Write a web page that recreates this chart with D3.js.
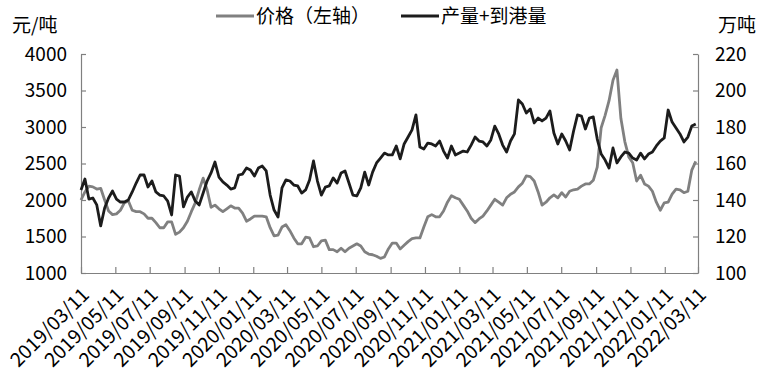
<!DOCTYPE html>
<html>
<head>
<meta charset="utf-8">
<script src="https://cdn.jsdelivr.net/npm/d3@7/dist/d3.min.js"></script>
<style>
  html, body { margin: 0; padding: 0; background: #fff; }
  svg { display: block; }
  text { font-family: "Noto Sans CJK SC", "Noto Sans", sans-serif; fill: #000; }
</style>
</head>
<body>
<svg id="chart" width="760" height="382"></svg>
<script>
// ---------------- DATA ----------------
const startDate = "2019/03/11";           // first weekly observation
const seriesNames = ["价格（左轴）", "产量+到港量"];
const leftUnit = "元/吨";
const rightUnit = "万吨";

// weekly price (元/吨, left axis)
const price = [
  2000,2110,2190,2180,2150,2160,2000,1850,1800,1810,
  1860,1960,1990,1860,1840,1840,1810,1750,1750,1690,
  1620,1620,1700,1700,1530,1560,1620,1710,1840,1960,
  2140,2300,2140,1900,1930,1880,1840,1880,1920,1890,
  1890,1820,1710,1740,1780,1780,1780,1770,1620,1510,
  1520,1630,1660,1580,1480,1400,1400,1490,1480,1360,
  1370,1440,1450,1320,1320,1290,1340,1290,1340,1370,
  1400,1370,1290,1260,1250,1230,1200,1220,1330,1410,
  1410,1330,1380,1430,1470,1480,1480,1630,1770,1800,
  1770,1770,1850,1970,2060,2030,2010,1930,1850,1750,
  1690,1740,1780,1850,1930,2010,1970,1930,2030,2080,
  2110,2180,2230,2330,2320,2260,2110,1930,1970,2030,
  2070,2030,2100,2040,2120,2140,2150,2190,2220,2220,
  2270,2450,2990,3160,3360,3640,3780,3120,2800,2590,
  2510,2260,2340,2220,2190,2120,1970,1860,1960,1970,
  2080,2150,2140,2100,2120,2410,2530
];

// weekly output + port arrivals (万吨, right axis)
const volume = [
  145.5,151.5,140.5,141.1,137.3,125.8,135.6,141.1,144.9,140.5,
  138.9,138.9,140.0,144.4,149.3,153.7,153.7,147.1,150.4,144.4,
  142.7,142.2,139.4,131.8,153.7,153.1,136.2,141.6,144.4,139.4,
  137.3,143.8,150.4,154.8,160.8,152.6,149.9,148.2,146.0,146.6,
  153.7,154.2,157.5,156.4,153.1,157.5,158.6,155.9,142.7,134.5,
  130.7,146.6,151.0,150.4,148.2,147.7,143.8,145.5,151.0,161.4,
  150.4,142.7,147.1,147.7,152.1,149.3,154.8,155.9,149.3,142.7,
  142.2,146.6,155.3,148.2,155.3,160.3,163.0,165.7,164.7,164.7,
  169.6,162.5,170.7,174.5,178.4,186.6,169.0,167.9,171.2,170.7,
  169.6,172.3,166.8,163.0,169.6,164.7,165.7,166.8,166.3,170.1,
  174.5,172.3,171.8,169.6,172.9,180.5,176.2,170.1,166.3,172.3,
  176.2,194.8,192.6,187.7,189.9,182.2,184.9,183.3,184.9,188.8,
  176.7,170.7,176.2,172.3,167.4,177.8,186.6,186.0,178.9,184.9,
  185.5,173.4,165.2,161.9,157.5,168.5,160.3,163.6,166.3,165.7,
  163.0,161.9,165.7,162.5,165.2,166.3,169.6,172.3,174.0,189.3,
  182.7,179.4,176.2,171.8,174.5,180.5,181.6
];

// x-axis tick labels (every two months)
const xTickLabels = [
  "2019/03/11","2019/05/11","2019/07/11","2019/09/11","2019/11/11",
  "2020/01/11","2020/03/11","2020/05/11","2020/07/11","2020/09/11",
  "2020/11/11","2021/01/11","2021/03/11","2021/05/11","2021/07/11",
  "2021/09/11","2021/11/11","2022/01/11","2022/03/11"
];
const leftTicks = [1000,1500,2000,2500,3000,3500,4000];
const rightTicks = [100,120,140,160,180,200,220];

// ---------------- CHART ----------------
const parse = d3.timeParse("%Y/%m/%d");
const fmt = d3.timeFormat("%Y/%m/%d");
const t0 = parse(startDate);
const dates = price.map((_, i) => d3.timeDay.offset(t0, 7 * i));

const plot = { left: 81, right: 698, top: 54, bottom: 273 };
const axisColor = "#808080";
const fontSize = 19;

const svg = d3.select("#chart");

const x = d3.scaleTime()
  .domain([parse(xTickLabels[0]), parse(xTickLabels[xTickLabels.length - 1])])
  .range([plot.left, plot.right]);
const yL = d3.scaleLinear().domain([1000, 4000]).range([plot.bottom, plot.top]);
const yR = d3.scaleLinear().domain([100, 220]).range([plot.bottom, plot.top]);

// axes
const gL = svg.append("g")
  .attr("transform", `translate(${plot.left},0)`)
  .call(d3.axisLeft(yL).tickValues(leftTicks).tickFormat(d3.format("d"))
        .tickSizeInner(-5).tickSizeOuter(0).tickPadding(14));
const gR = svg.append("g")
  .attr("transform", `translate(${plot.right},0)`)
  .call(d3.axisRight(yR).tickValues(rightTicks).tickFormat(d3.format("d"))
        .tickSizeInner(-5).tickSizeOuter(0).tickPadding(17));
const gB = svg.append("g")
  .attr("transform", `translate(0,${plot.bottom})`)
  .call(d3.axisBottom(x).tickValues(xTickLabels.map(parse)).tickFormat(d => fmt(d))
        .tickSizeInner(-6).tickSizeOuter(0));

[gL, gR, gB].forEach(g => {
  g.select(".domain").attr("stroke", axisColor).attr("stroke-width", 1.2);
  g.selectAll(".tick line").attr("stroke", axisColor).attr("stroke-width", 1.2);
  g.selectAll("text").attr("font-size", fontSize).attr("fill", "#000")
    .style("font-family", '"Noto Sans CJK SC", sans-serif');
});
gB.selectAll("text")
  .attr("font-size", 19.5)
  .attr("x", 0).attr("y", 0).attr("dy", "0")
  .attr("text-anchor", "end")
  .attr("transform", "translate(9,23) rotate(-45)");

// lines
const linePrice = d3.line().x((d, i) => x(dates[i])).y(d => yL(d));
const lineVol = d3.line().x((d, i) => x(dates[i])).y(d => yR(d));

svg.append("path").datum(price)
  .attr("fill", "none").attr("stroke", "#808080").attr("stroke-width", 2.8)
  .attr("stroke-linejoin", "round").attr("d", linePrice);
svg.append("path").datum(volume)
  .attr("fill", "none").attr("stroke", "#1c1c1c").attr("stroke-width", 2.8)
  .attr("stroke-linejoin", "round").attr("d", lineVol);

// unit labels
svg.append("text").attr("x", 12).attr("y", 32).attr("font-size", fontSize).text(leftUnit);
svg.append("text").attr("x", 718).attr("y", 32).attr("font-size", fontSize).text(rightUnit);

// legend
const legend = [
  { name: seriesNames[0], color: "#808080", x: 216 },
  { name: seriesNames[1], color: "#1c1c1c", x: 401 }
];
const lg = svg.append("g");
legend.forEach(l => {
  lg.append("line").attr("x1", l.x).attr("x2", l.x + 38).attr("y1", 16).attr("y2", 16)
    .attr("stroke", l.color).attr("stroke-width", 3);
  lg.append("text").attr("x", l.x + 40).attr("y", 16).attr("dy", "0.35em")
    .attr("font-size", fontSize).text(l.name);
});
</script>
</body>
</html>
